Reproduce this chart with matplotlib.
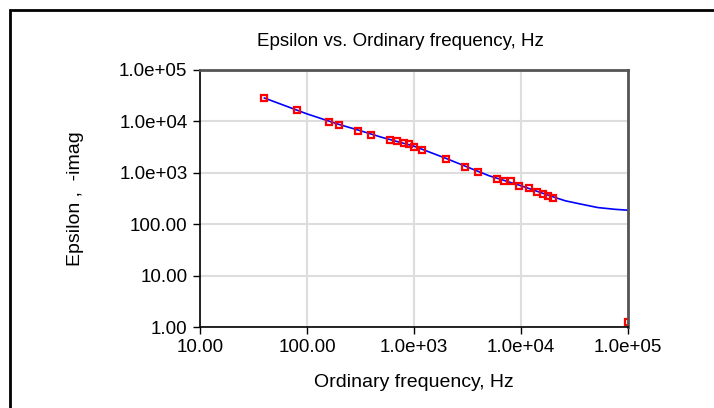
import numpy as np
import matplotlib
matplotlib.use('Agg')

import matplotlib.pyplot as plt
from matplotlib.patches import Rectangle

# measured points (red squares)
freq = [40, 80, 160, 200, 300, 400, 600, 700, 800, 900, 1000, 1200,
        2000, 3000, 4000, 6000, 7000, 8000, 9600, 12000, 14000, 16000,
        18000, 20000, 100000]
eps_imag = [28500, 16500, 9800, 8700, 6650, 5540, 4430, 4170, 3800, 3650,
            3220, 2760, 1870, 1300, 1040, 755, 705, 680, 545, 500, 415,
            380, 350, 317, 1.25]

# fitted curve (blue line)
fit_freq = [40, 100, 200, 300, 500, 1000, 2000, 3000, 5000, 10000, 20000,
            26000, 35000, 52000, 75000, 100000]
fit_eps = [28500, 14000, 8700, 6800, 4900, 3300, 1900, 1350, 880, 560, 340,
           285, 250, 211, 195, 187]

xticks = [10, 100, 1e3, 1e4, 1e5]
xlabels = ['10.00', '100.00', '1.0e+03', '1.0e+04', '1.0e+05']
yticks = [1, 10, 100, 1e3, 1e4, 1e5]
ylabels = ['1.00', '10.00', '100.00', '1.0e+03', '1.0e+04', '1.0e+05']

plt.rcParams['font.family'] = ['Liberation Sans', 'DejaVu Sans']

fig = plt.figure(figsize=(7.14, 4.08), dpi=100)
fig.patches.append(Rectangle((10/714, -0.1), 1.2, 1.1 - 10/408, transform=fig.transFigure,
                             fill=False, edgecolor='black', linewidth=2))

ax = fig.add_axes([200/714, 81/408, 428/714, 257/408])
ax.plot(fit_freq, fit_eps, color='blue', linewidth=1.2)
ax.plot(freq, eps_imag, 's', color='red', markersize=4, markerfacecolor='none',
        markeredgewidth=1.6)

ax.set_xscale('log')
ax.set_yscale('log')
ax.set_xlim(10, 1e5)
ax.set_ylim(1, 1e5)
ax.set_xticks(xticks)
ax.set_xticklabels(xlabels)
ax.set_yticks(yticks)
ax.set_yticklabels(ylabels)
ax.minorticks_off()
ax.tick_params(labelsize=13.5, length=5, width=1, colors='black', pad=4)
ax.grid(True, color='#dddddd', linewidth=1.5)
ax.set_axisbelow(True)

for s in ['left', 'bottom']:
    ax.spines[s].set_color('black')
    ax.spines[s].set_linewidth(1.2)
for s in ['top', 'right']:
    ax.spines[s].set_color('#555555')
    ax.spines[s].set_linewidth(2)

fig.text(400/714, 1 - 42/408, 'Epsilon vs. Ordinary frequency, Hz', fontsize=13.5,
         ha='center', va='center')
ax.set_xlabel('Ordinary frequency, Hz', fontsize=14)
ax.xaxis.set_label_coords(0.5, -0.183)
ax.set_ylabel('Epsilon ,  -imag', fontsize=14)
ax.yaxis.set_label_coords(-0.27, 0.5)

plt.savefig('out.png', dpi=100)
